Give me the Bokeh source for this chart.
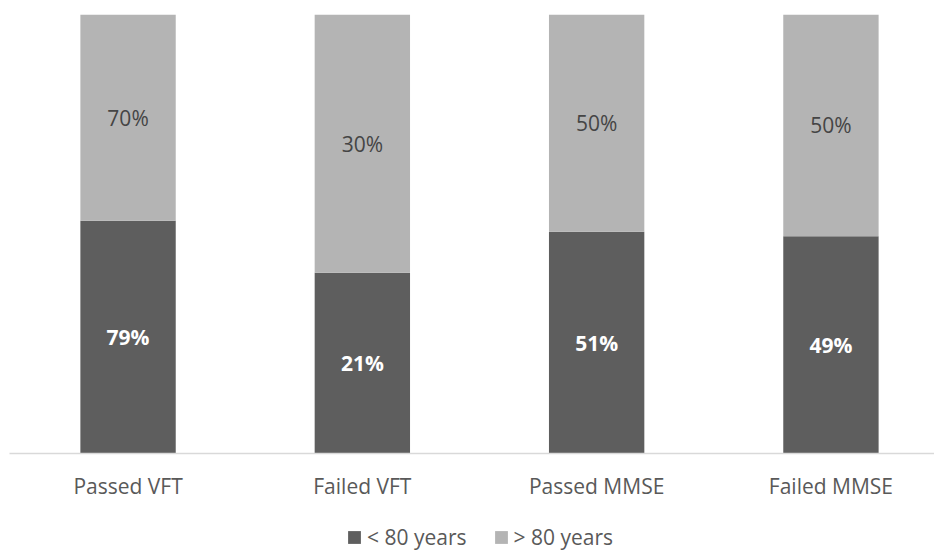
from bokeh.plotting import figure
from bokeh.layouts import column
from bokeh.models import ColumnDataSource, FixedTicker, Legend, LegendItem
from bokeh.embed import file_html
from bokeh.resources import INLINE

# Share of each age group in the four test outcomes
categories = ["Passed VFT", "Failed VFT", "Passed MMSE", "Failed MMSE"]
under_80 = [79, 21, 51, 49]
over_80 = [70, 30, 50, 50]
series_names = ["< 80 years", "> 80 years"]

DARK = "#5e5e5e"
LIGHT = "#b4b4b4"
FONT = "Open Sans"

xs = list(range(len(categories)))
# 100% stacked: each bar is normalised to its own total
totals = [a + b for a, b in zip(under_80, over_80)]
split = [a / t for a, t in zip(under_80, totals)]

src = ColumnDataSource(dict(
    x=xs,
    split=split,
    zero=[0.0] * len(xs),
    one=[1.0] * len(xs),
    dark_mid=[s / 2 for s in split],
    light_mid=[(1 + s) / 2 for s in split],
    dark_lbl=[f"{v}%" for v in under_80],
    light_lbl=[f"{v}%" for v in over_80],
))

p = figure(width=934, height=517, output_backend="svg", toolbar_location=None,
           x_range=(-0.506, 3.442), y_range=(0, 1),
           y_axis_location=None,
           min_border_left=9, min_border_right=0,
           min_border_top=14, min_border_bottom=64)
p.outline_line_color = None
p.grid.visible = False

p.vbar(x="x", width=0.407, bottom="zero", top="split", source=src,
       fill_color=DARK, line_color=None)
p.vbar(x="x", width=0.407, bottom="split", top="one", source=src,
       fill_color=LIGHT, line_color=None)

p.text(x="x", y="dark_mid", text="dark_lbl", source=src,
       text_align="center", text_baseline="middle",
       text_color="white", text_font_size="21px", text_font_style="bold",
       text_font={"value": FONT})
p.text(x="x", y="light_mid", text="light_lbl", source=src,
       text_align="center", text_baseline="middle",
       text_color="#454545", text_font_size="21px",
       text_font={"value": FONT})

ax = p.xaxis[0]
ax.ticker = FixedTicker(ticks=xs)
ax.major_label_overrides = {i: c for i, c in zip(xs, categories)}
ax.axis_line_color = "#d9d9d9"
ax.axis_line_width = 1.5
ax.major_tick_line_color = None
ax.minor_tick_line_color = None
ax.major_label_standoff = 12
ax.major_label_text_font = FONT
ax.major_label_text_font_size = "21px"
ax.major_label_text_color = "#595959"

# Legend strip underneath the chart; swatch glyphs sit outside the visible range
leg = figure(width=934, height=34, output_backend="svg", toolbar_location=None,
             x_axis_location=None, y_axis_location=None,
             min_border=0, x_range=(0, 1), y_range=(0, 1))
leg.outline_line_color = None
leg.grid.visible = False
swatches = [leg.rect(x=[-5], y=[-5], width=1, height=1,
                     fill_color=c, line_color=None)
            for c in (DARK, LIGHT)]
legend = Legend(items=[LegendItem(label=n, renderers=[r])
                       for n, r in zip(series_names, swatches)],
                orientation="horizontal", location=(337, 0),
                glyph_width=16, glyph_height=16, label_standoff=5, spacing=26,
                padding=0, margin=0, border_line_color=None,
                background_fill_alpha=0,
                label_text_font=FONT, label_text_font_size="21px",
                label_text_color="#595959")
leg.add_layout(legend, "center")

layout = column(p, leg, spacing=0)
open("out.html", "w").write(file_html(layout, INLINE))
